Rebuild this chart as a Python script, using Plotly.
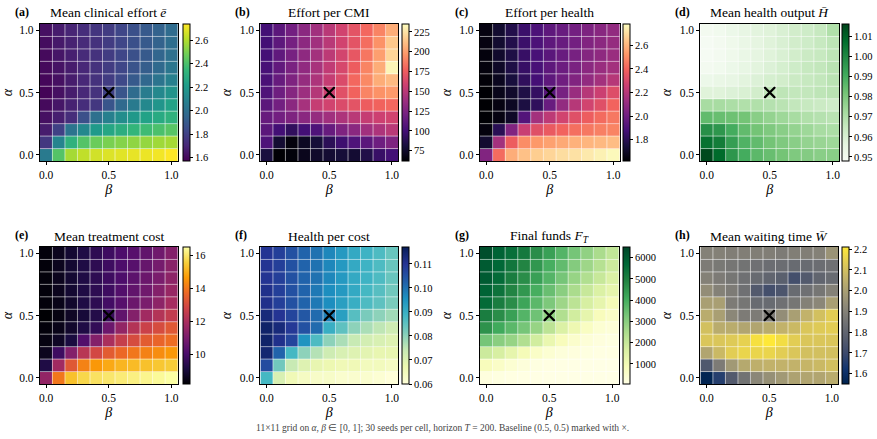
import plotly.graph_objects as go
import plotly.express as px

W, H = 877, 439

betas = [round(0.1 * i, 1) for i in range(11)]
alphas = [round(0.1 * i, 1) for i in range(11)]

# rows: alpha = 0.0 ... 1.0 ; columns: beta = 0.0 ... 1.0
mean_effort = [
    [2.05, 2.42, 2.58, 2.63, 2.66, 2.68, 2.69, 2.70, 2.71, 2.72, 2.74],
    [1.76, 2.10, 2.32, 2.42, 2.47, 2.50, 2.52, 2.54, 2.55, 2.57, 2.58],
    [1.66, 1.80, 2.02, 2.12, 2.20, 2.26, 2.30, 2.34, 2.37, 2.40, 2.43],
    [1.62, 1.67, 1.72, 1.86, 2.00, 2.08, 2.14, 2.19, 2.24, 2.28, 2.32],
    [1.60, 1.64, 1.68, 1.72, 1.76, 1.88, 1.97, 2.05, 2.12, 2.18, 2.24],
    [1.58, 1.62, 1.66, 1.70, 1.74, 1.80, 1.88, 1.98, 2.06, 2.12, 2.17],
    [1.59, 1.62, 1.66, 1.70, 1.74, 1.78, 1.83, 1.90, 1.96, 2.02, 2.08],
    [1.60, 1.63, 1.66, 1.70, 1.74, 1.78, 1.82, 1.87, 1.92, 1.97, 2.03],
    [1.60, 1.64, 1.67, 1.71, 1.74, 1.78, 1.82, 1.86, 1.90, 1.95, 2.00],
    [1.61, 1.65, 1.68, 1.71, 1.74, 1.78, 1.82, 1.86, 1.90, 1.94, 1.99],
    [1.62, 1.66, 1.69, 1.72, 1.75, 1.78, 1.82, 1.86, 1.90, 1.94, 1.98],
]

effort_per_cmi = [
    [82, 62, 64, 70, 75, 78, 80, 78, 85, 95, 100],
    [105, 78, 65, 72, 80, 90, 98, 105, 110, 118, 125],
    [110, 100, 92, 100, 105, 115, 125, 130, 140, 145, 150],
    [115, 120, 125, 130, 135, 140, 145, 150, 155, 158, 160],
    [110, 120, 130, 142, 155, 160, 165, 170, 175, 178, 180],
    [105, 118, 128, 138, 148, 158, 168, 178, 190, 195, 198],
    [103, 115, 125, 135, 145, 155, 165, 180, 192, 205, 210],
    [102, 113, 123, 133, 143, 153, 163, 175, 190, 205, 232],
    [101, 112, 122, 132, 141, 151, 161, 172, 185, 200, 220],
    [100, 111, 121, 131, 140, 150, 160, 170, 182, 195, 215],
    [100, 110, 120, 130, 140, 150, 160, 170, 180, 190, 205],
]

effort_per_health = [
    [2.05, 2.42, 2.58, 2.63, 2.66, 2.68, 2.70, 2.71, 2.73, 2.75, 2.77],
    [1.72, 2.15, 2.38, 2.50, 2.53, 2.55, 2.57, 2.59, 2.60, 2.61, 2.62],
    [1.64, 1.80, 2.05, 2.25, 2.33, 2.37, 2.40, 2.43, 2.45, 2.47, 2.48],
    [1.62, 1.65, 1.70, 1.92, 2.15, 2.22, 2.28, 2.33, 2.38, 2.42, 2.45],
    [1.62, 1.65, 1.69, 1.76, 1.82, 1.98, 2.10, 2.20, 2.28, 2.33, 2.40],
    [1.62, 1.67, 1.71, 1.77, 1.83, 1.93, 2.02, 2.12, 2.20, 2.26, 2.32],
    [1.63, 1.68, 1.75, 1.82, 1.88, 1.95, 2.00, 2.05, 2.10, 2.15, 2.20],
    [1.64, 1.70, 1.77, 1.84, 1.89, 1.95, 1.99, 2.03, 2.08, 2.12, 2.15],
    [1.64, 1.71, 1.77, 1.84, 1.89, 1.94, 1.98, 2.02, 2.06, 2.09, 2.12],
    [1.65, 1.72, 1.78, 1.85, 1.90, 1.95, 1.98, 2.01, 2.05, 2.08, 2.11],
    [1.65, 1.72, 1.78, 1.85, 1.90, 1.95, 1.98, 2.01, 2.04, 2.07, 2.10],
]

mean_health = [
    [1.015, 1.008, 0.996, 0.990, 0.986, 0.984, 0.982, 0.980, 0.979, 0.978, 0.978],
    [1.006, 1.003, 0.994, 0.988, 0.985, 0.982, 0.980, 0.978, 0.976, 0.975, 0.974],
    [0.998, 0.996, 0.990, 0.985, 0.982, 0.980, 0.978, 0.976, 0.974, 0.972, 0.971],
    [0.985, 0.984, 0.983, 0.982, 0.978, 0.976, 0.974, 0.972, 0.970, 0.969, 0.968],
    [0.972, 0.972, 0.971, 0.970, 0.970, 0.969, 0.968, 0.966, 0.965, 0.964, 0.963],
    [0.958, 0.958, 0.959, 0.960, 0.962, 0.966, 0.967, 0.966, 0.966, 0.967, 0.968],
    [0.953, 0.954, 0.955, 0.957, 0.959, 0.961, 0.962, 0.964, 0.965, 0.966, 0.968],
    [0.950, 0.951, 0.953, 0.955, 0.957, 0.959, 0.961, 0.963, 0.965, 0.966, 0.968],
    [0.949, 0.950, 0.952, 0.954, 0.956, 0.958, 0.960, 0.962, 0.964, 0.965, 0.967],
    [0.949, 0.950, 0.952, 0.954, 0.956, 0.958, 0.960, 0.962, 0.963, 0.965, 0.967],
    [0.950, 0.951, 0.953, 0.955, 0.957, 0.958, 0.960, 0.962, 0.963, 0.965, 0.970],
]

mean_cost = [
    [11.5, 14.0, 15.3, 15.7, 15.9, 16.0, 16.1, 16.2, 16.3, 16.4, 16.5],
    [9.2, 11.8, 13.3, 14.2, 14.6, 14.9, 15.1, 15.2, 15.3, 15.4, 15.5],
    [8.6, 9.8, 11.2, 12.3, 12.9, 13.4, 13.7, 14.0, 14.2, 14.4, 14.6],
    [8.4, 8.7, 9.1, 10.2, 11.2, 12.0, 12.6, 13.0, 13.4, 13.6, 13.8],
    [8.3, 8.5, 8.8, 9.2, 9.6, 10.7, 11.5, 12.2, 12.7, 13.0, 13.3],
    [8.2, 8.4, 8.7, 9.0, 9.3, 9.7, 10.5, 11.2, 11.8, 12.2, 12.5],
    [8.3, 8.5, 8.8, 9.2, 9.5, 9.9, 10.3, 10.7, 11.0, 11.4, 11.9],
    [8.3, 8.6, 8.9, 9.2, 9.5, 9.8, 10.2, 10.5, 10.8, 11.2, 11.6],
    [8.3, 8.6, 8.9, 9.2, 9.5, 9.8, 10.1, 10.4, 10.7, 11.0, 11.4],
    [8.3, 8.6, 8.9, 9.2, 9.5, 9.8, 10.1, 10.3, 10.6, 10.9, 11.3],
    [8.3, 8.6, 8.9, 9.2, 9.5, 9.8, 10.1, 10.3, 10.5, 10.8, 11.2],
]

health_per_cost = [
    [0.088, 0.071, 0.066, 0.064, 0.063, 0.063, 0.062, 0.062, 0.062, 0.061, 0.060],
    [0.106, 0.083, 0.074, 0.070, 0.068, 0.067, 0.066, 0.066, 0.065, 0.065, 0.064],
    [0.114, 0.102, 0.088, 0.080, 0.076, 0.073, 0.071, 0.070, 0.069, 0.068, 0.068],
    [0.115, 0.111, 0.107, 0.095, 0.087, 0.080, 0.077, 0.074, 0.072, 0.071, 0.070],
    [0.115, 0.113, 0.109, 0.105, 0.101, 0.090, 0.085, 0.080, 0.077, 0.075, 0.073],
    [0.113, 0.110, 0.107, 0.104, 0.101, 0.098, 0.093, 0.086, 0.082, 0.080, 0.078],
    [0.111, 0.108, 0.105, 0.102, 0.099, 0.096, 0.093, 0.090, 0.087, 0.085, 0.082],
    [0.111, 0.108, 0.105, 0.102, 0.099, 0.096, 0.094, 0.091, 0.088, 0.086, 0.083],
    [0.110, 0.108, 0.105, 0.102, 0.100, 0.097, 0.094, 0.091, 0.089, 0.087, 0.084],
    [0.110, 0.108, 0.105, 0.102, 0.100, 0.097, 0.094, 0.091, 0.089, 0.087, 0.084],
    [0.110, 0.108, 0.105, 0.102, 0.100, 0.097, 0.094, 0.091, 0.089, 0.087, 0.084],
]

final_funds = [
    [200, 150, 100, 80, 60, 50, 50, 50, 50, 50, 50],
    [800, 600, 400, 250, 150, 100, 80, 60, 50, 50, 50],
    [1900, 1700, 1300, 900, 600, 400, 250, 200, 150, 100, 100],
    [3300, 3000, 2800, 2400, 1800, 1200, 800, 500, 300, 200, 150],
    [4600, 4100, 3700, 3300, 2800, 2200, 1600, 1100, 700, 400, 300],
    [5100, 4700, 4300, 3800, 3400, 2900, 2400, 1800, 1300, 800, 600],
    [5600, 5100, 4700, 4200, 3700, 3200, 2700, 2200, 1700, 1300, 900],
    [5800, 5400, 4900, 4500, 4000, 3500, 3000, 2500, 2000, 1600, 1300],
    [6000, 5600, 5100, 4700, 4300, 3800, 3300, 2800, 2400, 2000, 1600],
    [6000, 5700, 5300, 4900, 4500, 4000, 3600, 3100, 2700, 2300, 1900],
    [6300, 5800, 5500, 5200, 4700, 4300, 3800, 3300, 2900, 2500, 2100],
]

mean_wait = [
    [1.56, 1.66, 1.76, 1.85, 1.92, 1.95, 1.98, 2.01, 2.02, 2.02, 2.04],
    [1.75, 1.88, 1.98, 2.03, 2.05, 2.06, 2.06, 2.06, 2.07, 2.08, 2.10],
    [2.02, 2.08, 2.14, 2.16, 2.16, 2.16, 2.14, 2.12, 2.10, 2.10, 2.10],
    [2.12, 2.12, 2.13, 2.15, 2.19, 2.21, 2.18, 2.14, 2.12, 2.12, 2.12],
    [2.10, 2.04, 2.04, 2.02, 2.02, 2.04, 2.06, 2.08, 2.12, 2.13, 2.14],
    [2.04, 2.00, 1.92, 1.88, 1.88, 1.88, 1.94, 2.00, 2.06, 2.10, 2.14],
    [2.00, 2.00, 1.88, 1.86, 1.82, 1.82, 1.84, 1.86, 1.90, 1.92, 2.00],
    [1.94, 1.90, 1.88, 1.84, 1.76, 1.72, 1.74, 1.82, 1.84, 1.86, 1.90],
    [1.90, 1.88, 1.86, 1.84, 1.82, 1.80, 1.78, 1.72, 1.76, 1.80, 1.82],
    [1.88, 1.87, 1.86, 1.85, 1.84, 1.83, 1.83, 1.82, 1.82, 1.83, 1.84],
    [1.90, 1.90, 1.89, 1.89, 1.89, 1.89, 1.88, 1.89, 1.89, 1.90, 1.96],
]

baseline = (0.5, 0.5)

panels = [
    dict(label="(a)", title="Mean clinical effort <i>ē</i>", z=mean_effort,
         cs=px.colors.sequential.Viridis, zmin=1.57, zmax=2.74, dtick=0.2, fmt=".1f",
         px_x=(39, 177), row=0, cb=182),
    dict(label="(b)", title="Effort per CMI", z=effort_per_cmi,
         cs=px.colors.sequential.Magma, zmin=62, zmax=235, dtick=25, fmt="d",
         px_x=(260, 398), row=0, cb=402),
    dict(label="(c)", title="Effort per health", z=effort_per_health,
         cs=px.colors.sequential.Magma, zmin=1.62, zmax=2.78, dtick=0.2, fmt=".1f",
         px_x=(480, 620), row=0, cb=623),
    dict(label="(d)", title="Mean health output <i>H̄</i>", z=mean_health,
         cs=px.colors.sequential.Greens, zmin=0.948, zmax=1.016, dtick=0.01, fmt=".2f",
         px_x=(701, 840), row=0, cb=843),
    dict(label="(e)", title="Mean treatment cost", z=mean_cost,
         cs=px.colors.sequential.Inferno, zmin=8.2, zmax=16.5, dtick=2, fmt="d",
         px_x=(39, 177), row=1, cb=182),
    dict(label="(f)", title="Health per cost", z=health_per_cost,
         cs=px.colors.sequential.YlGnBu, zmin=0.060, zmax=0.117, dtick=0.01, fmt=".2f",
         px_x=(260, 398), row=1, cb=402),
    dict(label="(g)", title="Final funds <i>F</i><sub><i>T</i></sub>", z=final_funds,
         cs=px.colors.sequential.YlGn, zmin=50, zmax=6500, dtick=1000, fmt="d",
         px_x=(480, 619), row=1, cb=623),
    dict(label="(h)", title="Mean waiting time <i>W̄</i>", z=mean_wait,
         cs=px.colors.sequential.Cividis, zmin=1.55, zmax=2.21, dtick=0.1, fmt=".1f",
         px_x=(701, 839), row=1, cb=843),
]

rows_px = [(24, 161), (247, 384)]
FONT = "Liberation Serif, Times New Roman, serif"

fig = go.Figure()
layout = dict(width=W, height=H, margin=dict(l=0, r=0, t=0, b=0),
              paper_bgcolor="white", plot_bgcolor="white",
              font=dict(family=FONT, color="black", size=11),
              showlegend=False, annotations=[], shapes=[])

for i, p in enumerate(panels, start=1):
    xa = "x" if i == 1 else f"x{i}"
    ya = "y" if i == 1 else f"y{i}"
    top, bot = rows_px[p["row"]]
    x0, x1 = p["px_x"]
    dom_x = [x0 / W, x1 / W]
    dom_y = [1 - bot / H, 1 - top / H]
    fig.add_trace(go.Heatmap(
        x=betas, y=alphas, z=p["z"], colorscale=p["cs"], zmin=p["zmin"], zmax=p["zmax"],
        xaxis=xa, yaxis=ya, hoverinfo="skip",
        colorbar=dict(x=p["cb"] / W, xanchor="left", xref="paper",
                      y=(dom_y[0] + dom_y[1]) / 2, yanchor="middle", yref="paper",
                      len=bot - top, lenmode="pixels", thickness=7,
                      xpad=0, ypad=0, outlinewidth=1, outlinecolor="black",
                      ticks="outside", ticklen=3, tickwidth=1, tickcolor="black",
                      dtick=p["dtick"], tickformat=p["fmt"],
                      tickfont=dict(family=FONT, size=10.5, color="black")),
    ))
    fig.add_trace(go.Scatter(
        x=[baseline[0]], y=[baseline[1]], mode="markers", xaxis=xa, yaxis=ya,
        marker=dict(symbol="x-thin", size=11, line=dict(width=2.4, color="black")),
        hoverinfo="skip"))
    axkey_x = "xaxis" if i == 1 else f"xaxis{i}"
    axkey_y = "yaxis" if i == 1 else f"yaxis{i}"
    layout[axkey_x] = dict(domain=dom_x, anchor=ya, range=[-0.05, 1.05],
                           tickvals=[0, 0.5, 1.0], ticktext=["0.0", "0.5", "1.0"],
                           ticks="outside", ticklen=3, tickcolor="black",
                           showline=True, mirror=True, linecolor="black", linewidth=1,
                           showgrid=False, zeroline=False,
                           tickfont=dict(size=11.5),
                           title=dict(text="<i>β</i>", font=dict(size=14), standoff=4))
    layout[axkey_y] = dict(domain=dom_y, anchor=xa, range=[-0.05, 1.05],
                           tickvals=[0, 0.5, 1.0], ticktext=["0.0", "0.5", "1.0"],
                           ticks="outside", ticklen=3, tickcolor="black",
                           showline=True, mirror=True, linecolor="black", linewidth=1,
                           showgrid=False, zeroline=False,
                           tickfont=dict(size=11.5),
                           title=dict(text="<i>α</i>", font=dict(size=14), standoff=4))
    # cell boundary lines
    for k in range(10):
        b = betas[k] + 0.05
        layout["shapes"].append(dict(type="line", xref=xa, yref=f"{ya} domain",
                                     x0=b, x1=b, y0=0, y1=1,
                                     line=dict(color="rgba(255,255,255,0.55)", width=1)))
        a = alphas[k] + 0.05
        layout["shapes"].append(dict(type="line", xref=f"{xa} domain", yref=ya,
                                     x0=0, x1=1, y0=a, y1=a,
                                     line=dict(color="rgba(255,255,255,0.55)", width=1)))
    # title and panel label
    layout["annotations"].append(dict(text=p["title"], xref="paper", yref="paper",
                                      x=(x0 + x1) / 2 / W, y=1 - (top - 11) / H,
                                      xanchor="center", yanchor="middle", showarrow=False,
                                      font=dict(family=FONT, size=13.5, color="black")))
    layout["annotations"].append(dict(text="<b>" + p["label"] + "</b>", xref="paper", yref="paper",
                                      x=(x0 - 27) / W, y=1 - (top - 12) / H,
                                      xanchor="left", yanchor="middle", showarrow=False,
                                      font=dict(family=FONT, size=12, color="black")))

layout["annotations"].append(dict(
    text="11×11 grid on <i>α</i>, <i>β</i> ∈ [0, 1]; 30 seeds per cell, horizon <i>T</i> = 200. Baseline (0.5, 0.5) marked with ×.",
    xref="paper", yref="paper", x=443 / W, y=1 - 428 / H, xanchor="center", yanchor="middle",
    showarrow=False, font=dict(family=FONT, size=9.5, color="#444444")))

fig.update_layout(**layout)
fig.write_html("out.html")
